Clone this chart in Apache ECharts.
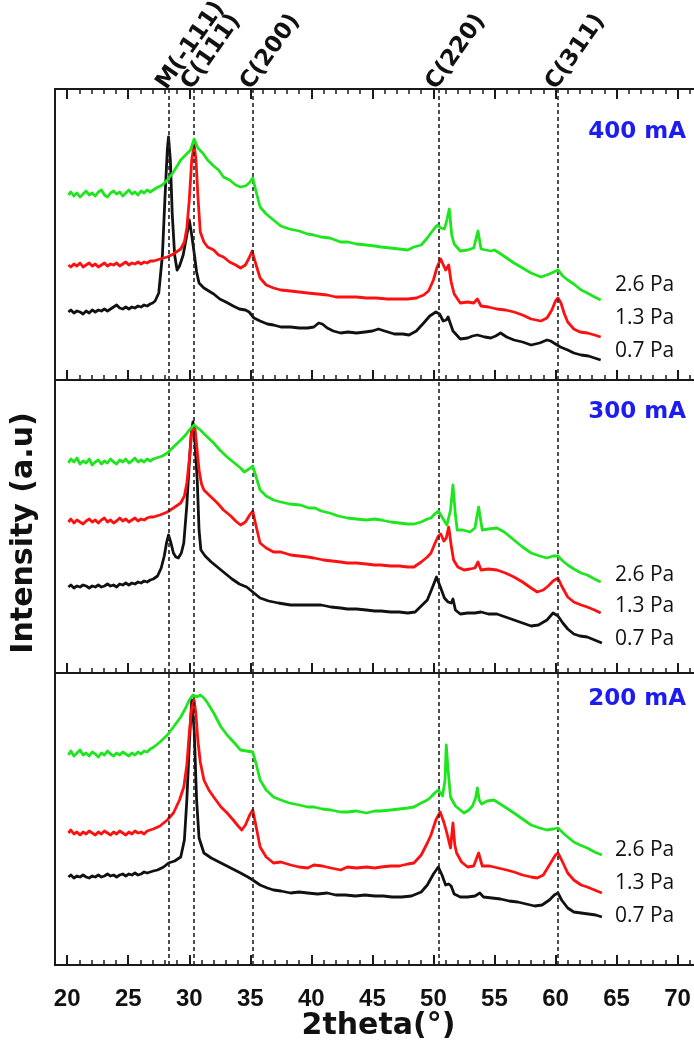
<!DOCTYPE html>
<html>
<head>
<meta charset="utf-8">
<script src="https://cdn.jsdelivr.net/npm/echarts@6/dist/echarts.min.js"></script>
<style>
html,body{margin:0;padding:0;background:#fff;}
#chart{width:694px;height:1043px;}
</style>
</head>
<body>
<div id="chart"></div>
<script>
// ---- Data (2theta in degrees, intensity in a.u., each panel offset-stacked) ----
const majorTicks = [20, 25, 30, 35, 40, 45, 50, 55, 60, 65, 70];
const peakPositions = [28.3, 30.35, 35.2, 50.4, 60.2];
const peakLabels = ['M(-111)', 'C(111)', 'C(200)', 'C(220)', 'C(311)'];
const currents = ['400 mA', '300 mA', '200 mA'];
const pressures = ['2.6 Pa', '1.3 Pa', '0.7 Pa'];
const xTitle = '2theta(°)';
const yTitle = 'Intensity (a.u)';

// 400 mA
const i400_p26 = [[20.1,185],[20.3,188],[20.55,184],[20.8,187],[21.05,183],[21.3,186],[21.55,189],[21.8,185],[22.05,187],[22.3,184],[22.55,188],[22.8,190],[23.05,185],[23.3,183],[23.55,187],[23.8,189],[24.05,186],[24.3,188],[24.55,184],[24.8,187],[25.05,190],[25.3,186],[25.55,188],[25.8,185],[26.05,189],[26.3,187],[26.55,190],[26.8,188],[27.05,190],[27.3,192],[27.8,195],[28.2,200],[28.7,208],[29.3,220],[29.7,225],[30.1,230],[30.4,241],[30.7,232],[31.1,227],[31.5,220],[32,214],[32.4,210],[32.8,203],[33.3,200],[33.8,195],[34.2,193],[34.6,194],[34.9,197],[35.2,202],[35.5,187],[35.8,173],[36.3,166],[36.9,160],[37.5,154],[38.2,151],[39,149],[39.7,146],[40.2,145],[40.8,143],[41.5,142],[42.4,138],[43,138],[43.7,136],[44.5,135],[45.2,134],[45.7,133],[46.5,132],[47.2,131],[47.9,130],[48.4,133],[49,135],[49.5,142],[49.8,147],[50.1,152],[50.35,155],[50.6,152],[50.9,151],[51.1,160],[51.3,171],[51.5,145],[51.7,136],[52.2,129],[52.8,130],[53.3,132],[53.65,149],[53.9,131],[54.3,130],[54.7,129],[55,130],[55.4,127],[56,122],[56.6,117],[57.3,112],[58,107],[58.8,103],[59.5,106],[60.2,110],[60.6,104],[61,100],[61.5,96],[62.1,90],[62.6,87],[63.2,83],[63.7,80]];
const i400_p13 = [[20.1,115],[20.3,113],[20.55,116],[20.8,114],[21.05,117],[21.3,113],[21.55,115],[21.8,117],[22.05,114],[22.3,116],[22.55,113],[22.8,115],[23.05,117],[23.3,114],[23.55,116],[23.8,115],[24.05,117],[24.3,114],[24.55,116],[24.8,118],[25.05,115],[25.3,117],[25.55,116],[25.8,118],[26.05,116],[26.3,118],[26.55,117],[26.8,119],[27.1,119],[27.6,121],[28.2,123],[28.7,126],[29.3,131],[29.6,138],[29.8,152],[30,180],[30.2,220],[30.4,235],[30.55,220],[30.7,185],[30.9,148],[31.2,138],[31.5,133],[32,130],[32.4,125],[32.8,123],[33.3,118],[33.8,115],[34.2,112],[34.6,115],[34.9,122],[35.15,129],[35.4,118],[35.8,102],[36.3,95],[36.9,92],[37.5,90],[38.3,89],[39,88],[39.7,87],[40.5,86],[41.3,85],[42,83],[42.9,83],[43.7,83],[44.5,82],[45.3,82],[46.2,81],[47,81],[47.9,81],[48.6,82],[49.2,85],[49.6,89],[50,100],[50.3,113],[50.6,121],[50.85,114],[51,110],[51.25,115],[51.45,98],[51.7,86],[52.2,77],[52.8,78],[53.3,77],[53.6,81],[53.9,74],[54.5,73],[55.2,71],[55.9,70],[56.6,68],[57.3,65],[58,61],[58.8,59],[59.3,62],[59.7,70],[60,79],[60.2,82],[60.45,77],[60.7,67],[61,58],[61.5,51],[62,48],[62.6,47],[63.2,45],[63.7,43]];
const i400_p07 = [[20.1,68],[20.3,70],[20.55,67],[20.8,69],[21.05,68],[21.3,66],[21.55,69],[21.8,67],[22.05,70],[22.3,68],[22.55,70],[22.8,69],[23.05,71],[23.3,69],[23.55,71],[23.8,73],[24.05,75],[24.3,72],[24.55,71],[24.8,73],[25.05,71],[25.3,73],[25.55,72],[25.8,74],[26.05,73],[26.3,75],[26.55,74],[26.8,76],[27,77],[27.2,79],[27.5,87],[27.8,125],[28,180],[28.2,230],[28.3,243],[28.45,220],[28.6,167],[28.8,125],[29,110],[29.2,114],[29.5,125],[29.8,145],[30,160],[30.2,145],[30.4,127],[30.6,108],[30.8,97],[31.2,92],[31.6,89],[32,86],[32.5,81],[33,78],[33.6,74],[34.1,71],[34.6,70],[34.9,68],[35.3,62],[35.8,59],[36.4,56],[36.9,55],[37.5,53],[38.3,53],[39,52],[39.7,52],[40.2,53],[40.6,57],[40.9,56],[41.3,52],[41.8,49],[42.4,47],[43,48],[43.7,47],[44.4,48],[45,49],[45.5,51],[46,49],[46.8,46],[47.5,46],[48,45],[48.6,49],[49.2,57],[49.7,64],[50.2,68],[50.5,66],[50.8,59],[51.05,60],[51.2,63],[51.4,56],[51.6,49],[52.2,41],[52.8,42],[53.2,44],[53.6,45],[54.2,43],[54.7,42],[55.1,44],[55.5,47],[56,43],[56.6,40],[57.3,38],[58,35],[58.7,37],[59.3,40],[59.6,39],[60,36],[60.4,33],[61,30],[61.5,27],[62.1,25],[62.7,24],[63.2,22],[63.7,20]];

// 300 mA
const i300_p26 = [[20.1,210],[20.3,214],[20.55,211],[20.8,215],[21.05,209],[21.3,212],[21.55,210],[21.8,214],[22.05,208],[22.3,211],[22.55,213],[22.8,209],[23.05,212],[23.3,210],[23.55,214],[23.8,211],[24.05,209],[24.3,213],[24.55,211],[24.8,214],[25.05,210],[25.3,212],[25.55,215],[25.8,211],[26.05,213],[26.3,211],[26.55,214],[26.8,212],[27.05,214],[27.3,215],[27.8,217],[28.2,220],[28.7,226],[29.3,233],[29.7,238],[30,243],[30.4,248],[30.9,243],[31.4,237],[32,230],[32.5,223],[33.1,216],[33.7,210],[34.2,205],[34.5,201],[34.9,204],[35.2,207],[35.5,195],[35.8,183],[36.3,177],[36.9,173],[37.5,171],[38.2,169],[39.1,168],[39.8,165],[40.3,165],[40.8,162],[41.5,160],[42.2,157],[42.95,155],[43.7,154],[44.5,153],[45.2,154],[45.7,153],[46.5,151],[47.2,150],[47.9,149],[48.4,149],[49,151],[49.5,154],[49.8,155],[50.1,159],[50.4,162],[50.7,156],[51.1,148],[51.4,163],[51.6,188],[51.8,158],[51.95,143],[52.4,143],[53,141],[53.4,145],[53.7,166],[54,143],[54.5,144],[55.2,145],[55.8,141],[56.6,133],[57.3,126],[58,120],[58.7,117],[59.3,115],[59.8,117],[60.2,117],[60.6,112],[61,108],[61.5,104],[62.1,100],[62.6,98],[63.2,94],[63.7,91]];
const i300_p13 = [[20.1,151],[20.3,154],[20.55,150],[20.8,153],[21.05,151],[21.3,149],[21.55,152],[21.8,154],[22.05,151],[22.3,153],[22.55,150],[22.8,153],[23.05,155],[23.3,151],[23.55,153],[23.8,150],[24.05,152],[24.3,155],[24.55,152],[24.8,154],[25.05,151],[25.3,153],[25.55,155],[25.8,152],[26.05,154],[26.3,153],[26.55,155],[26.8,156],[27.05,156],[27.6,158],[28.2,161],[28.7,165],[29.3,170],[29.6,177],[29.8,190],[30,213],[30.2,241],[30.45,247],[30.6,228],[30.8,203],[31,189],[31.2,183],[31.7,177],[32.3,170],[32.8,163],[33.4,157],[33.8,152],[34.2,148],[34.6,151],[34.95,158],[35.2,162],[35.45,148],[35.8,130],[36.3,125],[36.9,121],[37.5,121],[38.3,118],[39,117],[39.7,116],[40.2,115],[41,113],[41.7,112],[42.4,111],[42.95,110],[43.7,110],[44.5,109],[45.2,108],[45.7,108],[46.5,107],[47.2,107],[47.9,106],[48.4,106],[49,111],[49.5,116],[49.8,120],[50.1,129],[50.4,137],[50.6,139],[50.85,132],[51.05,135],[51.25,146],[51.45,128],[51.65,113],[52,106],[52.5,103],[53,104],[53.4,105],[53.65,111],[53.9,103],[54.5,104],[55.2,103],[55.9,100],[56.6,96],[57.3,91],[58,85],[58.5,81],[59,83],[59.4,87],[59.8,92],[60.2,95],[60.5,87],[61,76],[61.5,71],[62.1,68],[62.6,66],[63.2,63],[63.7,60]];
const i300_p07 = [[20.1,86],[20.3,88],[20.55,85],[20.8,87],[21.05,86],[21.3,88],[21.55,87],[21.8,85],[22.05,87],[22.3,86],[22.55,88],[22.8,86],[23.05,87],[23.3,89],[23.55,87],[23.8,88],[24.05,86],[24.3,89],[24.55,88],[24.8,90],[25.05,88],[25.3,90],[25.55,89],[25.8,91],[26.05,90],[26.3,92],[26.55,91],[26.8,93],[27.05,94],[27.4,97],[27.7,105],[27.95,117],[28.15,131],[28.3,138],[28.5,130],[28.7,120],[28.9,116],[29.1,115],[29.35,120],[29.55,130],[29.8,168],[30,210],[30.15,238],[30.3,251],[30.45,233],[30.65,193],[30.8,143],[30.95,123],[31.3,117],[31.8,111],[32.3,106],[32.9,100],[33.5,94],[34.1,89],[34.7,86],[35.2,81],[35.8,75],[36.5,72],[37.3,70],[38.3,68],[39.2,68],[40,68],[40.8,68],[41.6,66],[42.4,65],[42.95,64],[43.7,64],[44.5,63],[45.2,62],[45.7,62],[46.5,61],[47.2,61],[47.9,60],[48.5,61],[49,67],[49.5,73],[49.9,85],[50.25,96],[50.6,85],[50.9,75],[51.2,71],[51.45,70],[51.6,74],[51.8,63],[52.2,59],[52.8,60],[53.4,60],[53.9,61],[54.5,59],[55.2,59],[55.9,56],[56.6,53],[57.3,50],[58,47],[58.6,48],[59.3,53],[59.8,60],[60.2,57],[60.6,50],[61,44],[61.5,39],[62,37],[62.6,36],[63.2,33],[63.8,30]];

// 200 mA
const i200_p26 = [[20.1,210],[20.3,214],[20.55,209],[20.8,212],[21.05,215],[21.3,210],[21.55,212],[21.8,209],[22.05,213],[22.3,211],[22.55,208],[22.8,212],[23.05,210],[23.3,214],[23.55,211],[23.8,209],[24.05,212],[24.3,210],[24.55,213],[24.8,211],[25.05,209],[25.3,212],[25.55,210],[25.8,213],[26.05,211],[26.3,214],[26.55,213],[26.8,216],[27.1,218],[27.6,223],[28.2,230],[28.7,238],[29.3,248],[29.7,257],[30,265],[30.3,270],[30.6,268],[30.9,270],[31.2,267],[31.5,262],[32,252],[32.6,238],[33.1,230],[33.7,222],[34.2,215],[34.7,214],[35.2,213],[35.5,200],[35.8,185],[36.3,175],[36.9,168],[37.5,165],[38.2,162],[39,160],[39.7,158],[40.2,158],[40.9,156],[41.6,155],[42.4,153],[42.95,153],[43.7,154],[44.5,152],[45.2,154],[45.7,154],[46.5,155],[47.2,156],[47.9,157],[48.4,158],[49,162],[49.5,165],[49.8,168],[50.1,172],[50.4,175],[50.75,169],[50.95,185],[51.05,220],[51.2,195],[51.4,168],[51.8,159],[52.2,155],[52.5,152],[52.9,155],[53.2,159],[53.45,167],[53.6,177],[53.75,165],[53.95,161],[54.4,164],[54.95,165],[55.6,160],[56.1,156],[56.6,152],[57.3,146],[58,140],[58.7,137],[59.3,135],[59.8,136],[60.2,137],[60.8,130],[61.5,123],[62,120],[62.6,117],[63.2,113],[63.8,110]];
const i200_p13 = [[20.1,132],[20.3,135],[20.55,131],[20.8,133],[21.05,130],[21.3,133],[21.55,131],[21.8,134],[22.05,132],[22.3,130],[22.55,133],[22.8,131],[23.05,134],[23.3,132],[23.55,130],[23.8,133],[24.05,131],[24.3,134],[24.55,132],[24.8,130],[25.05,133],[25.3,131],[25.55,134],[25.8,132],[26.05,133],[26.3,131],[26.55,134],[26.8,135],[27.05,136],[27.6,139],[28.2,145],[28.7,152],[29.2,165],[29.55,178],[29.8,200],[30,232],[30.2,257],[30.4,265],[30.55,250],[30.7,225],[30.9,203],[31.2,185],[31.6,175],[32,168],[32.6,158],[33.1,152],[33.6,145],[34,139],[34.3,135],[34.6,140],[34.95,150],[35.2,155],[35.45,140],[35.8,118],[36.3,108],[36.9,102],[37.5,103],[38.3,100],[39,98],[39.7,97],[40.2,100],[40.9,99],[41.6,97],[42.4,95],[42.95,98],[43.7,97],[44.5,98],[45.2,97],[45.7,98],[46.5,99],[47.2,99],[47.9,101],[48.4,102],[49,110],[49.5,122],[49.8,130],[50.2,145],[50.55,153],[50.85,143],[51.1,132],[51.4,117],[51.6,142],[51.75,120],[51.9,112],[52.3,103],[52.8,98],[53.3,99],[53.7,112],[54,99],[54.6,99],[55.3,97],[56,95],[56.6,93],[57.3,90],[58,88],[58.5,87],[59,90],[59.6,102],[60,110],[60.2,112],[60.5,105],[61,92],[61.5,85],[62.1,80],[62.6,78],[63.2,75],[63.8,72]];
const i200_p07 = [[20.1,88],[20.3,90],[20.55,87],[20.8,89],[21.05,88],[21.3,90],[21.55,88],[21.8,87],[22.05,89],[22.3,88],[22.55,90],[22.8,88],[23.05,89],[23.3,91],[23.55,89],[23.8,90],[24.05,88],[24.3,90],[24.55,91],[24.8,89],[25.05,91],[25.3,90],[25.55,92],[25.8,90],[26.05,91],[26.3,93],[26.55,92],[26.8,93],[27.05,94],[27.4,95],[27.9,98],[28.3,102],[28.8,104],[29.3,108],[29.6,125],[29.8,165],[30,220],[30.2,265],[30.4,235],[30.6,165],[30.8,127],[31.2,112],[31.8,107],[32.6,102],[33.4,97],[34.2,92],[34.8,88],[35.2,85],[35.8,80],[36.4,77],[36.9,75],[37.5,74],[38.3,72],[39,73],[39.7,72],[40.5,71],[41.3,72],[42,70],[42.8,70],[43.6,69],[44.4,70],[45.2,69],[45.9,69],[46.6,68],[47.4,68],[48.2,69],[49,73],[49.5,80],[50,91],[50.4,98],[50.7,90],[51,80],[51.25,81],[51.45,79],[51.7,71],[52.2,68],[52.8,68],[53.4,69],[53.8,72],[54.1,68],[54.8,67],[55.5,66],[56.2,64],[56.9,63],[57.6,61],[58.3,59],[58.9,60],[59.5,65],[59.9,70],[60.2,72],[60.5,65],[61,57],[61.5,53],[62.1,52],[62.7,51],[63.3,50],[63.8,48]];

const panelData = [
  [i400_p26, i400_p13, i400_p07],
  [i300_p26, i300_p13, i300_p07],
  [i200_p26, i200_p13, i200_p07]
];
const traceColors = ['#1ee61e', '#ff1010', '#111111'];

// ---- Layout ----
const gridLeft = 55, gridWidth = 647;
const panels = [
  {top: 89, height: 291},
  {top: 380, height: 293},
  {top: 673, height: 292}
];
const xMin = 19, xMax = 72;
const minorTicks = [];
for (let v = 20; v <= 71; v++) if (v % 5 !== 0) minorTicks.push(v);

const axisColor = '#1a1a1a';
const boldFont = 'DejaVu Sans';

const grids = [], xAxes = [], yAxes = [], series = [];
panels.forEach((p, i) => {
  grids.push({left: gridLeft, width: gridWidth, top: p.top, height: p.height,
    containLabel: false, outerBoundsMode: 'none',
    show: true, borderColor: axisColor, borderWidth: 2, backgroundColor: 'transparent'});
  const positions = i === 0 ? ['bottom', 'top'] : ['bottom'];
  positions.forEach(pos => {
    const isBottomPanel = i === 2 && pos === 'bottom';
    xAxes.push({
      type: 'value', gridIndex: i, min: xMin, max: xMax, position: pos,
      axisLine: {show: false}, splitLine: {show: false},
      axisTick: {show: true, inside: true, length: 10, customValues: majorTicks,
        lineStyle: {color: axisColor, width: 2}},
      axisLabel: isBottomPanel ? {show: true, customValues: majorTicks, inside: false, margin: 22,
        fontFamily: 'Liberation Sans', fontWeight: 'bold', fontSize: 24, color: '#111'} : {show: false},
      name: isBottomPanel ? xTitle : '',
      nameLocation: 'middle', nameGap: 46, nameMoveOverlap: false,
      nameTextStyle: {fontFamily: boldFont, fontWeight: 'bold', fontSize: 30, color: '#111'}
    });
    xAxes.push({
      type: 'value', gridIndex: i, min: xMin, max: xMax, position: pos,
      axisLine: {show: false}, splitLine: {show: false},
      axisTick: {show: true, inside: true, length: 5, customValues: minorTicks,
        lineStyle: {color: axisColor, width: 1.5}},
      axisLabel: {show: false}
    });
  });
  yAxes.push({
    type: 'value', gridIndex: i, min: 0, max: p.height,
    axisLine: {show: false}, axisTick: {show: false}, axisLabel: {show: false}, splitLine: {show: false}
  });
});

const xIndexOfGrid = [0, 4, 6];
panelData.forEach((traces, i) => {
  traces.forEach((d, k) => {
    const s = {
      type: 'line', xAxisIndex: xIndexOfGrid[i], yAxisIndex: i, data: d,
      showSymbol: false, symbol: 'none', smooth: false, animation: false,
      lineStyle: {color: traceColors[k], width: 2.8, join: 'round'}, z: 5 - k
    };
    if (k === 0) {
      s.markLine = {
        silent: true, symbol: 'none', animation: false,
        label: {show: false},
        lineStyle: {color: '#222', type: [4, 3], width: 1.6},
        data: peakPositions.map(v => ({xAxis: v}))
      };
    }
    series.push(s);
  });
});

const chart = echarts.init(document.getElementById('chart'), null, {renderer: 'canvas'});
chart.setOption({
  animation: false,
  backgroundColor: '#ffffff',
  grid: grids, xAxis: xAxes, yAxis: yAxes, series: series
});

// ---- Annotations ----
const graphics = [];
const currentY = [133, 413, 700];
const pressureY = [[287, 320, 353], [577, 608, 641], [852, 885, 918]];
currents.forEach((c, i) => {
  graphics.push({type: 'text', right: 8, top: currentY[i] - 12,
    style: {text: c, fill: '#1c1cf0', font: 'bold 23px "DejaVu Sans"'}});
  pressures.forEach((p, k) => {
    graphics.push({type: 'text', left: 615, top: pressureY[i][k] - 12,
      style: {text: p, fill: '#111', font: '21px "Open Sans"'}});
  });
});
graphics.push({type: 'text', x: 24, y: 533, rotation: Math.PI / 2,
  style: {text: yTitle, fill: '#111', font: 'bold 30px "DejaVu Sans"',
    textAlign: 'center', textVerticalAlign: 'middle'}});
peakPositions.forEach((v, j) => {
  const px = chart.convertToPixel({xAxisIndex: 2}, v);
  graphics.push({type: 'text', x: px - 7, y: 87, rotation: 55 * Math.PI / 180,
    style: {text: peakLabels[j], fill: '#111', font: 'bold 23px "DejaVu Sans"',
      textAlign: 'left', textVerticalAlign: 'middle'}});
});
chart.setOption({graphic: graphics});
</script>
</body>
</html>
